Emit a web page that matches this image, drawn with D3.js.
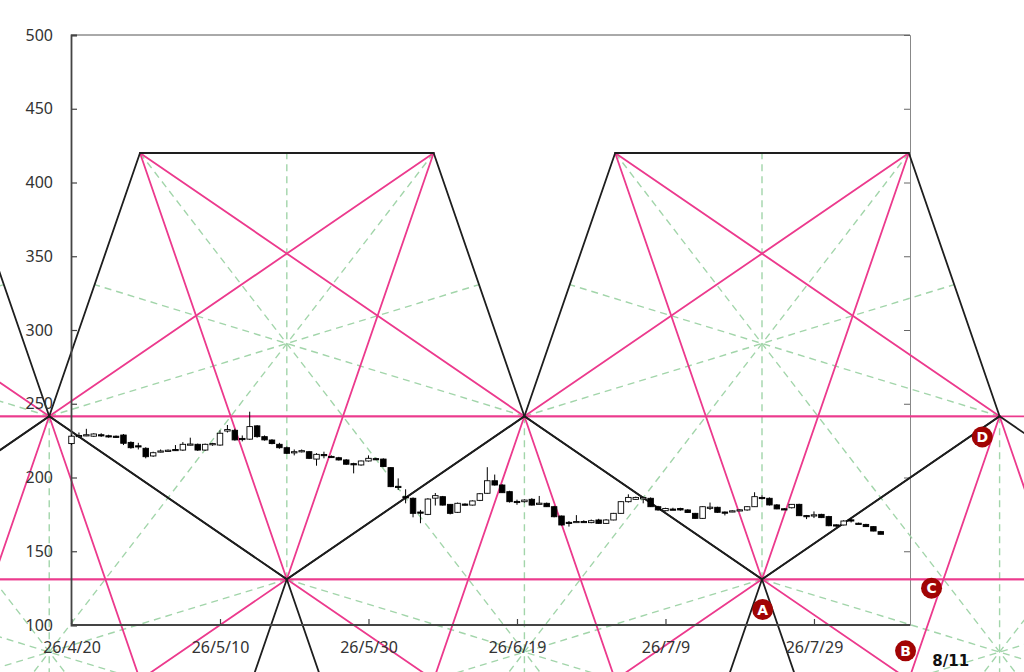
<!DOCTYPE html>
<html><head><meta charset="utf-8">
<script src="https://cdn.jsdelivr.net/npm/d3@7"></script>
<style>body{margin:0;background:#fff}svg{display:block}</style>
</head><body>
<svg id="chart" width="1024" height="672"></svg>
<script>
// ---------- data ----------
const startDate = "2026-04-20";
const endDate = "2026-08-11";
const yTicks = [100,150,200,250,300,350,400,450,500];
const xTickDates = ["2026-04-20","2026-05-10","2026-05-30","2026-06-19","2026-07-09","2026-07-29"];

const candleOpen  = [223,228,228.5,228,229,228.3,228,228.8,223.8,221.5,219.8,214.6,217.5,218,219,218.6,222.3,222.5,218.6,222.5,
  222,231.5,232,226.5,226,235,227.7,225.4,222.5,220.2,217.2,217.6,217.5,212.5,215.6,214.3,213.4,211.9,209.4,208.5,
  211.2,212.8,212.5,206.7,194,187,185.9,176.6,175,186,187,181.8,176.4,182,181.3,184.5,189.3,197.8,194.9,190.4,
  183.8,183.6,185.2,182.3,182.5,180.2,173.9,169.6,170,170.2,169.4,171.2,168.9,171.2,175.7,183.6,185.2,185.5,185.9,180.2,
  177.5,178.6,179,178,175.7,172.3,179.6,179.8,176.6,177.1,177.9,178,180.2,186.5,185.9,181.4,178.8,179.5,181.8,174.2,
  174.4,175,173.5,167.9,167.8,171.3,169,168.2,166.7,163.3];
const candleHigh  = [229,230.5,233,230,230,229,228.5,229.5,224.5,223.5,220.5,217.5,219,219,222,224,227,223,223,223.5,
  232,235.6,233,228.5,244.6,235.5,228.5,226,223.5,221,219,219,218,216.5,217.5,215,214,212.5,210,211.5,
  215,213.5,213,207,199.4,192,186.5,178,186,189.5,187.5,182,183,182.5,184.5,189.5,207,202,195.5,191,
  185,185.2,186,187.5,183,180.8,174.2,170.5,174.5,171,171.5,172,171.8,176,184,188.6,187,187,186.5,180.8,
  179.5,179.5,179.5,178.5,176,180.5,183,180.2,177,177.8,178.5,180.5,190,188,186.5,182,179.3,182,182.2,174.6,
  177,175.4,174,168.3,171,172.3,169.4,168.6,167,163.8];
const candleLow   = [222,227,228,227.5,227.5,227,226.8,222,219.5,219,213,214,217,217.5,218,218,221.8,218,218,221.5,
  221.5,230.5,225,224.5,225.5,227,225,222.5,219.5,216,215,217,212.5,208,213,213.5,211.5,208.5,202.8,208,
  210.8,212,207,193.5,191.5,182.5,173,169,174.5,181,181,175,176,181,181,184,189,194.5,189.5,183,
  181.5,183,181,182,180,173,167.5,166.7,169.3,169.5,169,168.5,168.5,171,175.5,183,184.8,182.5,180,177.5,
  177,178,177.5,176,172,172,178,176,174.3,176.5,177.2,177.5,180,185,181,178.5,178.2,179,174,171.8,
  172.5,172.5,167,166.2,167.5,169.5,168.5,166.5,163.5,161.5];
const candleClose = [228,228.5,229,229.5,228.3,227.7,227.2,223.2,220.2,220.8,214.1,216.8,218,218.5,218.3,222.5,222.7,218.6,222.5,223,
  230,232.5,225.5,226.3,234.5,227.7,225.5,223,220.2,216.4,217.5,218.2,213,215.7,214.8,214,211.9,209,208.9,211.2,
  213,212.5,207.4,193.8,193.6,186.2,175.7,176.2,185.4,187.7,181.3,175.7,182.5,181.8,184.1,189,197.8,194.9,189.7,183.6,
  183.5,184.7,181.3,182.6,180.2,173.4,167.8,169.3,170.2,170,170.7,168.9,171.2,175.7,183.6,186.5,186.5,186.5,180.2,178,
  179,178.3,178,176.3,172.3,180.2,179.9,176.4,176.3,177.4,178.1,180.2,187,186.2,181.4,178.7,178.5,181.8,174.1,174,
  174.7,172.8,167.3,167.7,170.5,171.1,168.8,166.7,163.7,161.5];

// pentagon pattern anchors (dates of the pentagon axes) and price levels
const upperPentagonDates = ["2026-03-16","2026-05-19","2026-07-22"];
const lowerPentagonDates = ["2026-04-17","2026-06-20","2026-08-23"];
const levelTop = 420, levelMid = 241.5, levelLow = 131;
const halfSpanDays = 32;

// markers
const markerLabels = ["A","B","C","D"];
const markerDates  = ["2026-07-22T02:00","2026-08-10T08:00","2026-08-13T20:00","2026-08-20T16:00"];
const markerValues = [110.5, 82.5, 125, 227.5];
const noteText = "8/11", noteDate = "2026-08-16T10:00", noteValue = 76;

// ---------- chart ----------
const pd = d3.timeParse("%Y-%m-%d"), pdt = d3.timeParse("%Y-%m-%dT%H:%M");
const svg = d3.select("#chart");
const W = 1024, H = 672;
const x = d3.scaleTime().domain([pd(startDate), pd(endDate)]).range([71.5, 910.5]);
const y = d3.scaleLinear().domain([100, 500]).range([625, 35]);
const off = (d, days) => new Date(+d + days * 864e5);

const PINK = "#ec3a8d", BLACK = "#1e1e1e", GREEN = "#a2d5aa";
const topHalf = halfSpanDays * Math.sin(Math.PI/5) / Math.sin(2*Math.PI/5);
const radius = (levelTop - levelLow) / (1 + Math.cos(Math.PI/5));

const shapes = [];
upperPentagonDates.forEach(s => {
  const c = pd(s);
  shapes.push({
    verts: [ {d: off(c,-topHalf), v: levelTop}, {d: off(c,topHalf), v: levelTop},
             {d: off(c,halfSpanDays), v: levelMid}, {d: c, v: levelLow}, {d: off(c,-halfSpanDays), v: levelMid} ]
  });
});
lowerPentagonDates.forEach(s => {
  const c = pd(s);
  const bottom = levelMid - (levelTop - levelLow);
  shapes.push({
    verts: [ {d: c, v: levelMid}, {d: off(c,halfSpanDays), v: levelLow},
             {d: off(c,topHalf), v: bottom}, {d: off(c,-topHalf), v: bottom}, {d: off(c,-halfSpanDays), v: levelLow} ]
  });
});

const greenSegs = [], pinkSegs = [], blackSegs = [];
shapes.forEach(sh => {
  const V = sh.verts;
  for (let i = 0; i < 5; i++) {
    blackSegs.push([V[i], V[(i+1)%5]]);
    pinkSegs.push([V[i], V[(i+2)%5]]);
    const a = V[(i+2)%5], b = V[(i+3)%5];
    greenSegs.push([V[i], {d: new Date((+a.d + +b.d)/2), v: (a.v + b.v)/2}]);
  }
});
// full-width horizontal levels
[levelMid, levelLow].forEach(v => pinkSegs.push([{d: x.invert(0), v}, {d: x.invert(W), v}]));

const drawSegs = (segs, color, width, dash) => {
  svg.append("g").selectAll("line").data(segs).join("line")
    .attr("x1", s => x(s[0].d)).attr("y1", s => y(s[0].v))
    .attr("x2", s => x(s[1].d)).attr("y2", s => y(s[1].v))
    .attr("stroke", color).attr("stroke-width", width)
    .attr("stroke-dasharray", dash || null).attr("stroke-linecap", dash ? "butt" : "round");
};

// frame (top & right)
svg.append("line").attr("x1", 71).attr("x2", 910).attr("y1", 35).attr("y2", 35).attr("stroke", "#555").attr("stroke-width", 1);
const rightAxis = svg.append("g").attr("transform", "translate(910,0)")
  .call(d3.axisLeft(y).tickValues(yTicks).tickSize(6).tickFormat(""));
rightAxis.select(".domain").attr("stroke", "#888").attr("stroke-width", 1);
rightAxis.selectAll(".tick line").attr("stroke", "#666");

drawSegs(greenSegs, GREEN, 1.4, "7,5");
drawSegs(pinkSegs, PINK, 1.8);
drawSegs(blackSegs, BLACK, 1.8);

// axes
const leftAxis = svg.append("g").attr("transform", "translate(71,0)")
  .call(d3.axisLeft(y).tickValues(yTicks).tickSize(-6).tickPadding(18));
const bottomAxis = svg.append("g").attr("transform", "translate(0,625)")
  .call(d3.axisBottom(x).tickValues(xTickDates.map(pd)).tickSize(-6).tickPadding(17)
        .tickFormat(d3.timeFormat("%y/%-m/%-d")));
bottomAxis.select(".domain").attr("d", "M71,0H910");
[leftAxis, bottomAxis].forEach(g => {
  g.select(".domain").attr("stroke", "#444").attr("stroke-width", 1.8);
  g.selectAll(".tick line").attr("stroke", "#444").attr("stroke-width", 1.2);
  g.selectAll(".tick text").attr("fill", "#333").attr("font-size", 16)
    .attr("font-family", "'Noto Sans', 'Open Sans', sans-serif");
});

// candles
const candles = candleOpen.map((o, i) => ({
  d: d3.timeDay.offset(pd(startDate), i), o, h: candleHigh[i], l: candleLow[i], c: candleClose[i]
}));
const cg = svg.append("g");
const bw = 5.5;
cg.selectAll("line").data(candles).join("line")
  .attr("x1", d => x(d.d)).attr("x2", d => x(d.d))
  .attr("y1", d => y(d.h)).attr("y2", d => y(d.l))
  .attr("stroke", "#000").attr("stroke-width", 1);
cg.selectAll("rect").data(candles).join("rect")
  .attr("x", d => x(d.d) - bw/2).attr("width", bw)
  .attr("y", d => y(Math.max(d.o, d.c)))
  .attr("height", d => Math.max(1.2, Math.abs(y(d.o) - y(d.c))))
  .attr("fill", d => d.c >= d.o ? "#fff" : "#000")
  .attr("stroke", "#000").attr("stroke-width", 0.9);

// markers
const markers = markerLabels.map((t, i) => ({t, d: pdt(markerDates[i]), v: markerValues[i]}));
const mg = svg.append("g").selectAll("g").data(markers).join("g")
  .attr("transform", m => `translate(${x(m.d)},${y(m.v)})`);
mg.append("circle").attr("r", 10.5).attr("fill", "#a10404");
mg.append("text").text(m => m.t).attr("text-anchor", "middle").attr("dy", "0.36em")
  .attr("fill", "#fff").attr("font-weight", "bold").attr("font-size", 14)
  .attr("font-family", "'DejaVu Sans', sans-serif");

svg.append("text").text(noteText).attr("x", x(pdt(noteDate))).attr("y", y(noteValue))
  .attr("text-anchor", "middle").attr("dy", "0.36em").attr("font-weight", "bold")
  .attr("font-size", 15).attr("fill", "#111").attr("font-family", "'DejaVu Sans', sans-serif");
</script>
</body></html>
